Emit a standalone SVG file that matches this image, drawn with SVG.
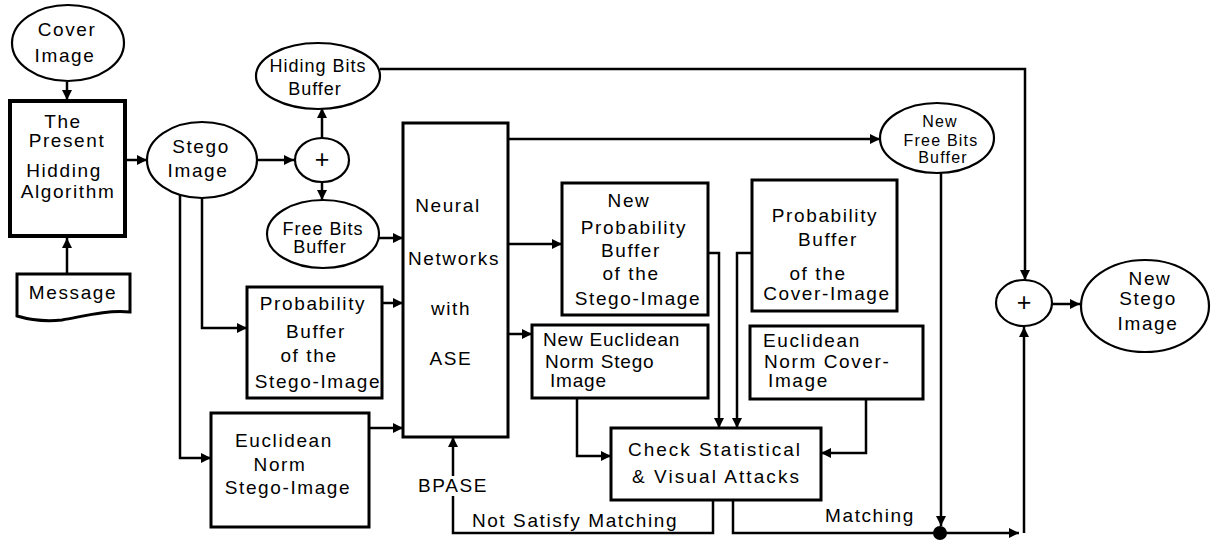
<svg xmlns="http://www.w3.org/2000/svg" width="1212" height="543" viewBox="0 0 1212 543">
<defs>
<style>
text{font-family:"Liberation Sans",Arial,sans-serif;font-size:19px;letter-spacing:1.6px;fill:#000}
.m{text-anchor:middle}
.s{font-size:16px;letter-spacing:1.2px}
.p{font-size:25px;letter-spacing:0}
.box{fill:#fff;stroke:#000;stroke-width:3}
.thick{fill:#fff;stroke:#000;stroke-width:4}
.ell{fill:#fff;stroke:#000;stroke-width:2.2}
.c{fill:none;stroke:#000;stroke-width:2.5}
.a{marker-end:url(#ah)}
</style>
<marker id="ah" viewBox="0 0 10 10" refX="10" refY="5" markerWidth="4.6" markerHeight="4" orient="auto" markerUnits="strokeWidth">
<path d="M0,0 L10,5 L0,10 Z" fill="#000"/>
</marker>
</defs>
<rect width="1212" height="543" fill="#fff"/>
<g id="connectors">
<path class="c a" d="M67,82 V100"/>
<path class="c a" d="M67,274 V238"/>
<path class="c a" d="M126,160 H147"/>
<path class="c a" d="M257,160 H294"/>
<path class="c a" d="M322,138 V108"/>
<path class="c a" d="M322,182 V200"/>
<path class="c a" d="M379,238 H403"/>
<path class="c a" d="M202,198 V328 H247"/>
<path class="c a" d="M180,195 V458 H211"/>
<path class="c a" d="M382,303 H403"/>
<path class="c a" d="M369,428 H403"/>
<path class="c a" d="M380,69 H1025 V280"/>
<path class="c a" d="M508,139 H880"/>
<path class="c a" d="M508,244 H562"/>
<path class="c a" d="M508,334 H532"/>
<path class="c a" d="M708,253 H719 V428"/>
<path class="c a" d="M752,253 H737 V428"/>
<path class="c a" d="M577,398 V456 H611"/>
<path class="c a" d="M866,399 V453 H821"/>
<path class="c a" d="M713,500 V533 H453 V437"/>
<path class="c a" d="M733,500 V533 H1019"/>
<path class="c a" d="M1024,533 V327"/>
<path class="c a" d="M941,173 V526"/>
<path class="c a" d="M1052,304 H1080"/>
<circle cx="940" cy="533" r="7" fill="#000"/>
<rect x="415" y="476" width="78" height="20" fill="#fff"/>
<text class="m" x="453" y="492">BPASE</text>
<text class="m" x="575" y="527">Not Satisfy Matching</text>
<text class="m" x="870" y="522">Matching</text>
</g>
<g id="cover-image">
<ellipse class="ell" cx="68" cy="43" rx="56" ry="38"/>
<text class="m" x="67" y="36">Cover</text>
<text class="m" x="65" y="62">Image</text>
</g>
<g id="hiding-algorithm">
<rect class="thick" x="10" y="101" width="115" height="135"/>
<text class="m" x="63" y="128">The</text>
<text class="m" x="67" y="147">Present</text>
<text class="m" x="64" y="177">Hidding</text>
<text class="m" x="68" y="198">Algorithm</text>
</g>
<g id="message">
<path class="box" d="M17,274 H130 V312 C105,310 85,316 62,320 C42,322 27,319 17,316 Z"/>
<text class="m" x="73" y="299">Message</text>
</g>
<g id="stego-image">
<ellipse class="ell" cx="202" cy="160" rx="55" ry="38"/>
<text class="m" x="201" y="153">Stego</text>
<text class="m" x="198" y="177">Image</text>
</g>
<g id="plus1">
<ellipse class="ell" cx="322" cy="160" rx="27" ry="22"/>
<text class="m p" x="322" y="168">+</text>
</g>
<g id="hiding-bits-buffer">
<ellipse class="ell" cx="318" cy="76" rx="62" ry="33"/>
<text class="m" x="318" y="72" style="font-size:18px;letter-spacing:1px">Hiding Bits</text>
<text class="m" x="315" y="95" style="font-size:18px;letter-spacing:1px">Buffer</text>
</g>
<g id="free-bits-buffer">
<ellipse class="ell" cx="323" cy="234" rx="56" ry="34"/>
<text class="m" x="323" y="235" style="font-size:18px;letter-spacing:1px">Free Bits</text>
<text class="m" x="320" y="253" style="font-size:18px;letter-spacing:1px">Buffer</text>
</g>
<g id="prob-stego">
<rect class="box" x="247" y="287" width="135" height="111"/>
<text class="m" x="313" y="310">Probability</text>
<text class="m" x="316" y="338">Buffer</text>
<text class="m" x="309" y="362">of the</text>
<text class="m" x="318" y="388">Stego-Image</text>
</g>
<g id="euclid-stego">
<rect class="box" x="211" y="413" width="158" height="114"/>
<text class="m" x="284" y="447">Euclidean</text>
<text class="m" x="280" y="471">Norm</text>
<text class="m" x="288" y="494">Stego-Image</text>
</g>
<g id="neural-networks">
<rect class="box" x="403" y="123" width="105" height="314"/>
<text class="m" x="448" y="212">Neural</text>
<text class="m" x="454" y="265">Networks</text>
<text class="m" x="451" y="315">with</text>
<text class="m" x="451" y="365">ASE</text>
</g>
<g id="new-prob-stego">
<rect class="box" x="562" y="183" width="146" height="132"/>
<text class="m" x="629" y="207">New</text>
<text class="m" x="634" y="234">Probability</text>
<text class="m" x="631" y="257">Buffer</text>
<text class="m" x="631" y="280">of the</text>
<text class="m" x="638" y="305">Stego-Image</text>
</g>
<g id="new-euclid-stego">
<rect class="box" x="532" y="325" width="176" height="73"/>
<text x="543" y="346" style="letter-spacing:0.8px">New Euclidean</text>
<text x="545" y="368" style="letter-spacing:0.8px">Norm Stego</text>
<text x="550" y="387" style="letter-spacing:0.8px">Image</text>
</g>
<g id="check-attacks">
<rect class="box" x="611" y="428" width="210" height="72"/>
<text x="628" y="456" textLength="172" lengthAdjust="spacing" style="letter-spacing:0">Check  Statistical</text>
<text x="632" y="483" textLength="167" lengthAdjust="spacing" style="letter-spacing:0">&amp; Visual  Attacks</text>
</g>
<g id="prob-cover">
<rect class="box" x="752" y="180" width="145" height="131"/>
<text class="m" x="825" y="222">Probability</text>
<text class="m" x="828" y="246">Buffer</text>
<text class="m" x="818" y="280">of the</text>
<text class="m" x="827" y="300">Cover-Image</text>
</g>
<g id="euclid-cover">
<rect class="box" x="750" y="326" width="173" height="73"/>
<text x="763" y="347">Euclidean</text>
<text x="764" y="368">Norm Cover-</text>
<text x="768" y="387">Image</text>
</g>
<g id="new-free-bits-buffer">
<ellipse class="ell" cx="937" cy="138" rx="57" ry="35"/>
<text class="m s" x="940" y="127">New</text>
<text class="m s" x="941" y="146">Free Bits</text>
<text class="m s" x="943" y="163">Buffer</text>
</g>
<g id="plus2">
<ellipse class="ell" cx="1024" cy="303" rx="28" ry="23"/>
<text class="m p" x="1024" y="311">+</text>
</g>
<g id="new-stego-image">
<ellipse class="ell" cx="1145" cy="306" rx="64" ry="46"/>
<text class="m" x="1150" y="285">New</text>
<text class="m" x="1148" y="305">Stego</text>
<text class="m" x="1148" y="330">Image</text>
</g>
</svg>
